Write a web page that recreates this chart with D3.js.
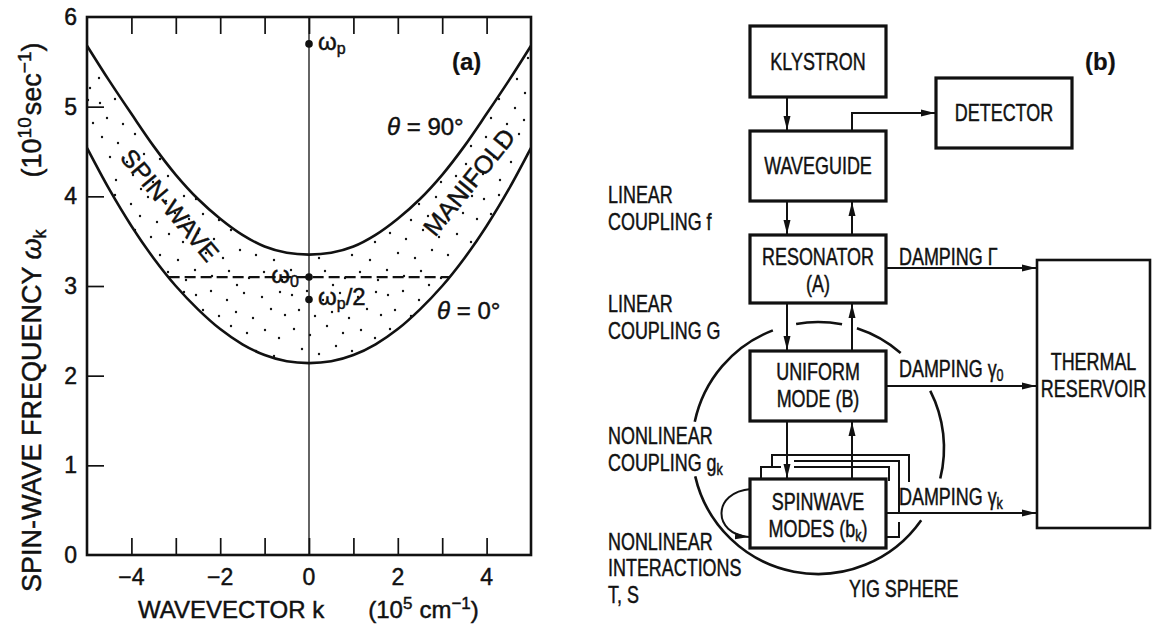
<!DOCTYPE html>
<html>
<head>
<meta charset="utf-8">
<script src="https://cdn.jsdelivr.net/npm/d3@7"></script>
<style>
  html, body { margin: 0; padding: 0; background: #fff; }
  svg { display: block; }
  text { font-family: "Liberation Sans", Arial, Helvetica, sans-serif; fill: #111; stroke: #111; stroke-width: 0.45; }
  text.bold { stroke-width: 0.2; }
</style>
</head>
<body>
<svg id="fig" width="1161" height="624"></svg>
<script>
// ---- dispersion data (wavevector in 1e5 cm^-1, frequency in 1e10 s^-1) ----
const kValues       = [-5, -4.5, -4, -3.5, -3, -2.5, -2, -1.5, -1, -0.5, 0, 0.5, 1, 1.5, 2, 2.5, 3, 3.5, 4, 4.5, 5];
const omegaTheta90  = [5.68, 5.29, 4.92, 4.56, 4.24, 3.97, 3.75, 3.57, 3.44, 3.37, 3.35, 3.37, 3.44, 3.57, 3.75, 3.97, 4.24, 4.56, 4.92, 5.29, 5.68];
const omegaTheta0   = [4.54, 4.08, 3.67, 3.31, 3.00, 2.74, 2.52, 2.35, 2.23, 2.16, 2.14, 2.16, 2.23, 2.35, 2.52, 2.74, 3.00, 3.31, 3.67, 4.08, 4.54];
const xTickMarks    = [-4, -3, -2, -1, 0, 1, 2, 3, 4];
const xTickLabels   = [-4, -2, 0, 2, 4];
const yTickValues   = [0, 1, 2, 3, 4, 5, 6];
const omegaP        = 5.7;
const omega0        = 3.1;
const omegaPHalf    = 2.85;

// ---- block diagram labels ----
const blockNames    = ["KLYSTRON", "WAVEGUIDE", "DETECTOR", "RESONATOR|(A)", "UNIFORM|MODE (B)", "SPINWAVE|MODES (b_k)", "THERMAL|RESERVOIR"];
const sideNotes     = ["LINEAR|COUPLING f", "LINEAR|COUPLING G", "NONLINEAR|COUPLING g_k", "NONLINEAR|INTERACTIONS|T, S"];
const dampingNotes  = ["DAMPING Γ", "DAMPING γ_0", "DAMPING γ_k"];

const svg = d3.select("#fig");
const defs = svg.append("defs");

// ------------------------------------------------------------------
// Panel (a): spin-wave manifold
// ------------------------------------------------------------------
const plot = { left: 87, right: 531, top: 17, bottom: 555 };
const x = d3.scaleLinear().domain([-5, 5]).range([plot.left, plot.right]);
const y = d3.scaleLinear().domain([0, 6]).range([plot.bottom, plot.top]);

const band = kValues.map((k, i) => ({ k, hi: omegaTheta90[i], lo: omegaTheta0[i] }));

// stipple texture for the manifold
const dotTile = [[4,7],[19,3],[35,12],[52,5],[70,9],[88,4],[11,22],[27,28],[44,24],[61,30],[79,21],[93,27],
                 [6,41],[22,47],[39,38],[55,45],[73,42],[87,50],[14,61],[31,66],[48,58],[64,63],[82,68],
                 [3,78],[20,84],[37,79],[57,86],[72,80],[90,88],[45,93]];
const pat = defs.append("pattern").attr("id", "stipple").attr("patternUnits", "userSpaceOnUse")
  .attr("width", 96).attr("height", 96);
pat.selectAll("circle").data(dotTile).join("circle")
  .attr("cx", d => d[0]).attr("cy", d => d[1]).attr("r", 1.2).attr("fill", "#111");

defs.append("clipPath").attr("id", "plotClip").append("rect")
  .attr("x", plot.left).attr("y", plot.top)
  .attr("width", plot.right - plot.left).attr("height", plot.bottom - plot.top);

const gA = svg.append("g");
const gBand = gA.append("g").attr("clip-path", "url(#plotClip)");

gBand.append("path").datum(band)
  .attr("d", d3.area().x(d => x(d.k)).y0(d => y(d.lo)).y1(d => y(d.hi)).curve(d3.curveCatmullRom.alpha(0.5)))
  .attr("fill", "url(#stipple)");

const lineGen = acc => d3.line().x(d => x(d.k)).y(d => y(acc(d))).curve(d3.curveCatmullRom.alpha(0.5));
gBand.append("path").datum(band).attr("d", lineGen(d => d.hi))
  .attr("fill", "none").attr("stroke", "#111").attr("stroke-width", 2.6);
gBand.append("path").datum(band).attr("d", lineGen(d => d.lo))
  .attr("fill", "none").attr("stroke", "#111").attr("stroke-width", 2.6);

// k where the lower branch reaches omega0 (linear interpolation on the table)
function crossing(side) {
  const idx = side < 0 ? d3.range(0, 10) : d3.range(10, 20);
  for (const i of idx) {
    const a = band[i], b = band[i + 1];
    if ((a.lo - omega0) * (b.lo - omega0) <= 0) {
      return a.k + (omega0 - a.lo) / (b.lo - a.lo) * (b.k - a.k);
    }
  }
  return 0;
}
gA.append("line")
  .attr("x1", x(crossing(-1))).attr("x2", x(crossing(1)))
  .attr("y1", y(omega0)).attr("y2", y(omega0))
  .attr("stroke", "#111").attr("stroke-width", 2.2).attr("stroke-dasharray", "11,5");

// vertical line at k = 0
gA.append("line").attr("x1", x(0)).attr("x2", x(0)).attr("y1", y(0)).attr("y2", y(6))
  .attr("stroke", "#111").attr("stroke-width", 1.3);

// frame
gA.append("rect").attr("x", plot.left).attr("y", plot.top)
  .attr("width", plot.right - plot.left).attr("height", plot.bottom - plot.top)
  .attr("fill", "none").attr("stroke", "#111").attr("stroke-width", 2.6);

// axes (ticks point inward)
const tickLen = 17;
const xAxisB = d3.axisTop(x).tickValues(xTickMarks).tickSize(tickLen).tickFormat("");
const xAxisT = d3.axisBottom(x).tickValues(xTickMarks).tickSize(tickLen).tickFormat("");
const yAxisL = d3.axisRight(y).tickValues(yTickValues.slice(1, 6)).tickSize(tickLen).tickFormat("");
[
  gA.append("g").attr("transform", `translate(0,${plot.bottom})`).call(xAxisB),
  gA.append("g").attr("transform", `translate(0,${plot.top})`).call(xAxisT),
  gA.append("g").attr("transform", `translate(${plot.left},0)`).call(yAxisL)
].forEach(g => {
  g.select(".domain").remove();
  g.selectAll(".tick line").attr("stroke", "#111").attr("stroke-width", 1.7);
});

// tick labels
gA.append("g").selectAll("text").data(xTickLabels).join("text")
  .attr("x", d => x(d)).attr("y", plot.bottom + 30)
  .attr("text-anchor", "middle").attr("font-size", 23)
  .text(d => d < 0 ? "\u2212" + Math.abs(d) : d);
gA.append("g").selectAll("text").data(yTickValues).join("text")
  .attr("x", plot.left - 10).attr("y", d => y(d) + 8)
  .attr("text-anchor", "end").attr("font-size", 23)
  .text(d => d);

// axis titles
const xt = gA.append("text").attr("x", 138).attr("y", 618).attr("font-size", 24);
xt.append("tspan").text("WAVEVECTOR k");
xt.append("tspan").attr("dx", 44).text("(10");
xt.append("tspan").attr("font-size", 17).attr("dy", -9).text("5");
xt.append("tspan").attr("dy", 9).attr("dx", 7).text("cm");
xt.append("tspan").attr("font-size", 17).attr("dy", -9).text("\u22121");
xt.append("tspan").attr("dy", 9).text(")");

const yt = gA.append("text").attr("transform", "translate(41,592) rotate(-90)").attr("font-size", 27);
yt.append("tspan").text("SPIN-WAVE FREQUENCY ");
yt.append("tspan").attr("font-style", "italic").text("ω");
yt.append("tspan").attr("font-size", 18).attr("dy", 5).text("k");
yt.append("tspan").attr("dy", -5).attr("dx", 52).text("(10");
yt.append("tspan").attr("font-size", 19).attr("dy", -10).text("10");
yt.append("tspan").attr("dy", 10).attr("dx", 2).text("sec");
yt.append("tspan").attr("font-size", 19).attr("dy", -10).text("\u22121");
yt.append("tspan").attr("dy", 10).text(")");

// marked frequencies on k = 0
const marks = [
  { w: omegaP,     label: "ω", sub: "p", tail: "",   side: 1 },
  { w: omega0,     label: "ω", sub: "0", tail: "",   side: -1 },
  { w: omegaPHalf, label: "ω", sub: "p", tail: "/2", side: 1 }
];
gA.append("g").selectAll("circle").data(marks).join("circle")
  .attr("cx", x(0)).attr("cy", d => y(d.w)).attr("r", 3.8).attr("fill", "#111");
marks.forEach(m => {
  const t = gA.append("text").attr("font-size", 24)
    .attr("x", m.side > 0 ? x(0) + 9 : x(0) - 10).attr("y", y(m.w) + 6)
    .attr("text-anchor", m.side > 0 ? "start" : "end");
  t.append("tspan").text(m.label);
  t.append("tspan").attr("font-size", 16).attr("dy", 4).text(m.sub);
  if (m.tail) t.append("tspan").attr("dy", -4).text(m.tail);
});

// curve annotations
function thetaLabel(px, py, deg) {
  const t = gA.append("text").attr("x", px).attr("y", py).attr("font-size", 24);
  t.append("tspan").attr("font-style", "italic").text("θ");
  t.append("tspan").text(" = " + deg + "°");
}
thetaLabel(387, 135, 90);
thetaLabel(437, 319, 0);

gA.append("text").attr("transform", "translate(170,205) rotate(50)")
  .attr("text-anchor", "middle").attr("dominant-baseline", "central").attr("font-size", 25).text("SPIN-WAVE");
gA.append("text").attr("transform", "translate(469,182) rotate(-51)")
  .attr("text-anchor", "middle").attr("dominant-baseline", "central").attr("font-size", 25).text("MANIFOLD");

gA.append("text").attr("class", "bold").attr("x", 452).attr("y", 70).attr("font-size", 24).attr("font-weight", "bold").text("(a)");

// ------------------------------------------------------------------
// Panel (b): block diagram
// ------------------------------------------------------------------
const gB = svg.append("g");
const COND = 0.78;

defs.append("marker").attr("id", "arrow").attr("viewBox", "0 0 14 8")
  .attr("refX", 14).attr("refY", 4).attr("markerWidth", 14).attr("markerHeight", 8)
  .attr("markerUnits", "userSpaceOnUse").attr("orient", "auto")
  .append("path").attr("d", "M0,0.5 L14,4 L0,7.5 Z").attr("fill", "#111");

// condensed multi-line label; "_x" renders x as a subscript
function label(g, cx, cy, str, opts = {}) {
  const size = opts.size || 23;
  const lh = opts.lh || 26.5;
  const anchor = opts.anchor || "middle";
  const lines = str.split("|");
  const grp = g.append("g").attr("transform", `translate(${cx},${cy}) scale(${COND},1)`);
  lines.forEach((ln, i) => {
    const t = grp.append("text").attr("x", 0)
      .attr("y", (i - (lines.length - 1) / 2) * lh + size * 0.36)
      .attr("text-anchor", anchor).attr("font-size", size);
    const parts = ln.split("_");
    t.append("tspan").text(parts[0]);
    if (parts.length > 1) {
      const m = parts[1].match(/^(\w)(.*)$/);
      t.append("tspan").attr("font-size", size * 0.7).attr("dy", 4).text(m[1]);
      if (m[2]) t.append("tspan").attr("dy", -4).text(m[2]);
    }
  });
  return grp;
}

const boxes = [
  { x0: 750, x1: 886, y0: 26,  y1: 97,  sw: 3.2 },
  { x0: 750, x1: 886, y0: 131, y1: 201, sw: 3.2 },
  { x0: 936, x1: 1072, y0: 78, y1: 148, sw: 3.2 },
  { x0: 750, x1: 886, y0: 235, y1: 303, sw: 3.2 },
  { x0: 750, x1: 886, y0: 351, y1: 421, sw: 3.2 },
  { x0: 750, x1: 886, y0: 479, y1: 548, sw: 3.2 },
  { x0: 1037, x1: 1150, y0: 260, y1: 528, sw: 2.6 }
];
const textCenters = [null, null, null, 270, 385, 515, 375];
boxes.forEach((b, i) => {
  gB.append("rect").attr("x", b.x0).attr("y", b.y0).attr("width", b.x1 - b.x0).attr("height", b.y1 - b.y0)
    .attr("fill", "none").attr("stroke", "#111").attr("stroke-width", b.sw);
  const cy = textCenters[i] || (b.y0 + b.y1) / 2;
  label(gB, (b.x0 + b.x1) / 2, cy, blockNames[i]);
});

// signal paths
const arrowPaths = [
  "M787,97 V130",          // klystron -> waveguide
  "M787,201 V234",         // waveguide -> resonator
  "M852,235 V202",         // resonator -> waveguide
  "M852,131 V113 H935",    // waveguide -> detector
  "M787,303 V350",         // resonator -> uniform mode
  "M852,351 V304",         // uniform mode -> resonator
  "M787,421 V478",         // uniform mode -> spin waves
  "M852,479 V422",         // spin waves -> uniform mode
  "M886,268 H1036",        // damping Gamma
  "M886,386 H1036",        // damping gamma_0
  "M886,513 H1036",        // damping gamma_k
  "M751,489 C712,492 712,534 749,537" // spin-wave self interaction
];
gB.append("g").selectAll("path").data(arrowPaths).join("path")
  .attr("d", d => d).attr("fill", "none").attr("stroke", "#111").attr("stroke-width", 2)
  .attr("marker-end", "url(#arrow)");

// nonlinear coupling feedback lines
const feedPaths = [
  "M761,479 V467 H781",
  "M794,467 H889 V481",
  "M772,467 V455 H909 V482",
  "M794,461 H899 V512",
  "M886,537 H899 V522"
];
gB.append("g").selectAll("path").data(feedPaths).join("path")
  .attr("d", d => d).attr("fill", "none").attr("stroke", "#111").attr("stroke-width", 2);

// YIG sphere outline, broken around labels and arrows
const sphere = { cx: 818, cy: 448, r: 126 };
const arcSegs = [[-100, -79], [-111, -168], [167, 35], [-72, -49], [-27, 14]];
arcSegs.forEach(([a0, a1]) => {
  // screen angles (0 = east, clockwise) -> d3.arc angles (0 = north, clockwise)
  const s = (Math.min(a0, a1) + 90) * Math.PI / 180;
  const e = (Math.max(a0, a1) + 90) * Math.PI / 180;
  gB.append("path").attr("transform", `translate(${sphere.cx},${sphere.cy})`)
    .attr("d", d3.arc()({ innerRadius: sphere.r, outerRadius: sphere.r, startAngle: s, endAngle: e }))
    .attr("fill", "none").attr("stroke", "#111").attr("stroke-width", 2.6);
});

// side notes
const notePos = [[608, 208], [608, 317], [608, 449], [608, 568]];
sideNotes.forEach((s, i) => label(gB, notePos[i][0], notePos[i][1], s, { anchor: "start" }));

// damping labels
const dampPos = [[899, 257], [899, 369], [899, 497]];
dampingNotes.forEach((s, i) => label(gB, dampPos[i][0], dampPos[i][1], s, { anchor: "start" }));

label(gB, 849, 589, "YIG SPHERE", { anchor: "start" });
gB.append("text").attr("class", "bold").attr("x", 1085).attr("y", 70).attr("font-size", 24).attr("font-weight", "bold").text("(b)");
</script>
</body>
</html>
